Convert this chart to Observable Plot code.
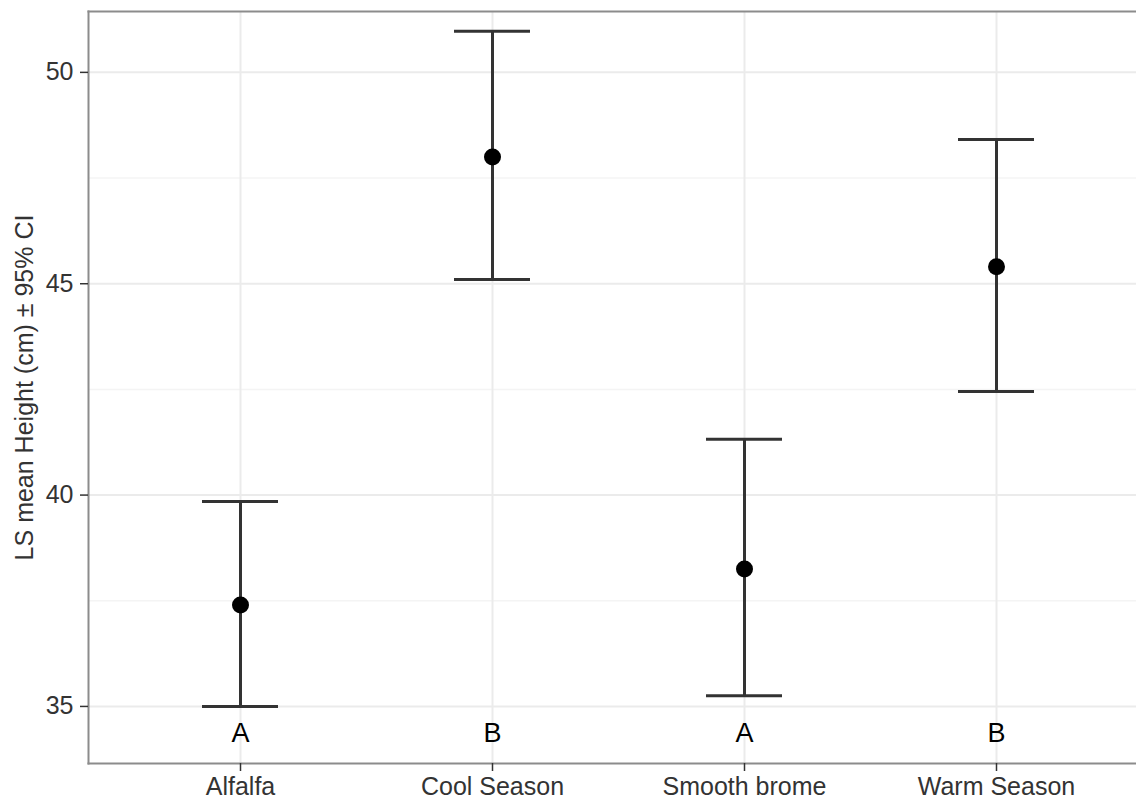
<!DOCTYPE html>
<html>
<head>
<meta charset="utf-8">
<script src="https://cdn.jsdelivr.net/npm/d3@7"></script>
<script src="https://cdn.jsdelivr.net/npm/@observablehq/plot@0.6"></script>
<style>
  html, body { margin: 0; padding: 0; background: #fff; }
  #chart svg { display: block; }
</style>
</head>
<body>
<div id="chart"></div>
<script>
const categories = ["Alfalfa", "Cool Season", "Smooth brome", "Warm Season"];
const means = [37.4, 48.0, 38.25, 45.4];
const lower = [35.0, 45.1, 35.25, 42.45];
const upper = [39.85, 50.97, 41.32, 48.41];
const letters = ["A", "B", "A", "B"];
const letterY = [34.36, 34.36, 34.36, 34.36];
const yTicks = [35, 40, 45, 50];
const yMinorTicks = [37.5, 42.5, 47.5];
const yDomain = [33.65, 51.44];

const data = categories.map((c, i) => ({
  cat: c, mean: means[i], lo: lower[i], hi: upper[i], letter: letters[i], ly: letterY[i]
}));

const font = "'Liberation Sans', Arial, sans-serif";

const chart = Plot.plot({
  width: 1136,
  height: 805,
  marginLeft: 88,
  marginRight: 0,
  marginTop: 11,
  marginBottom: 42,
  style: { fontFamily: font, background: "#fff" },
  x: { type: "band", domain: categories, range: [88, 1148], paddingInner: 0.7, paddingOuter: 0.447 },
  y: { domain: yDomain },
  marks: [
    Plot.ruleY(yMinorTicks, { stroke: "#f4f4f4", strokeWidth: 1.5 }),
    Plot.gridY({ ticks: yTicks, stroke: "#ebebeb", strokeOpacity: 1, strokeWidth: 2 }),
    Plot.gridX({ stroke: "#ebebeb", strokeOpacity: 1, strokeWidth: 2 }),
    Plot.frame({ anchor: "left", stroke: "#8c8c8c", strokeWidth: 2 }),
    Plot.frame({ anchor: "top", stroke: "#8c8c8c", strokeWidth: 2 }),
    Plot.frame({ anchor: "bottom", stroke: "#8c8c8c", strokeWidth: 2 }),
    Plot.ruleX(data, { x: "cat", y1: "lo", y2: "hi", stroke: "#333", strokeWidth: 3 }),
    Plot.tickY(data, { x: "cat", y: "lo", stroke: "#333", strokeWidth: 3 }),
    Plot.tickY(data, { x: "cat", y: "hi", stroke: "#333", strokeWidth: 3 }),
    Plot.dot(data, { x: "cat", y: "mean", r: 8.5, fill: "#000", stroke: "none" }),
    Plot.text(data, { x: "cat", y: "ly", text: "letter", fontSize: 27, fill: "#000", fontFamily: font }),
    Plot.axisY({
      ticks: yTicks, tickSize: 8, tickPadding: 7, fontSize: 25, stroke: "#333", strokeWidth: 1.5,
      color: "#333",
      label: "LS mean Height (cm) ± 95% CI", labelAnchor: "center", labelOffset: 73, labelArrow: "none"
    }),
    Plot.axisX({ tickSize: 8, tickPadding: 6, fontSize: 25, stroke: "#333", strokeWidth: 1.5, color: "#333", label: null })
  ]
});

document.getElementById("chart").appendChild(chart);
</script>
</body>
</html>
